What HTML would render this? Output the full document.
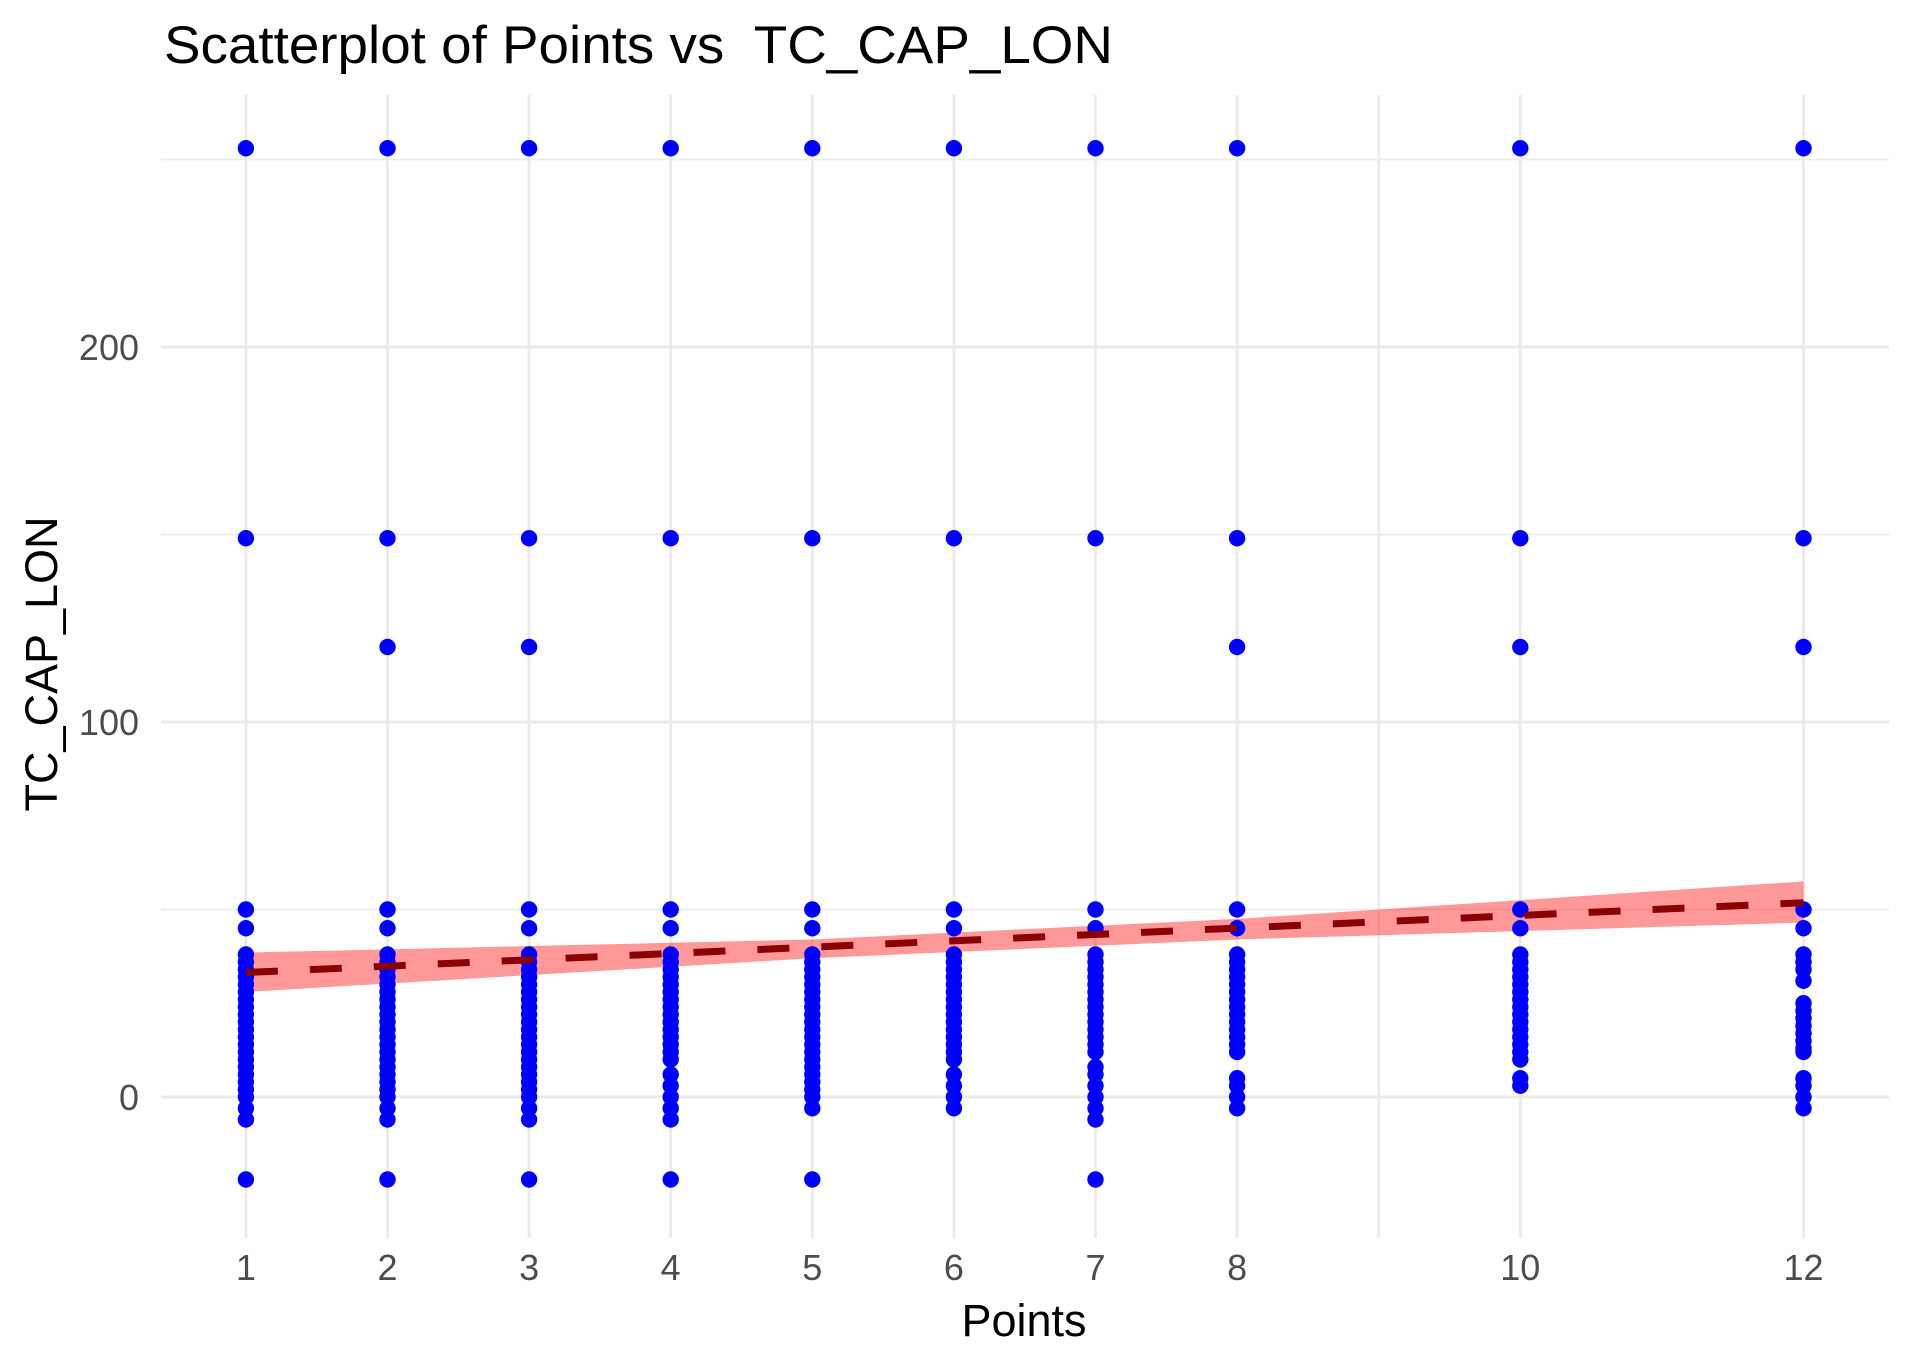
<!DOCTYPE html>
<html><head><meta charset="utf-8"><style>
html,body{margin:0;padding:0;background:#fff;}
svg{display:block;font-family:"Liberation Sans",Arial,sans-serif;}
</style></head><body>
<svg id="chart" width="1912" height="1368" viewBox="0 0 1912 1368" xmlns="http://www.w3.org/2000/svg">
<rect width="1912" height="1368" fill="#fff"/>
<g id="grid"></g>
<g id="ribbon"></g>
<g id="points"></g>
<g id="fit"></g>
<g id="axes"></g>
<text x="164" y="63" font-size="53" fill="#000" textLength="949" lengthAdjust="spacingAndGlyphs" xml:space="preserve">Scatterplot of Points vs  TC_CAP_LON</text>
<text x="1024" y="1336" font-size="45" fill="#000" text-anchor="middle">Points</text>
<text transform="translate(57,664) rotate(-90)" font-size="45" fill="#000" text-anchor="middle">TC_CAP_LON</text>
</svg>
<script>
const xTicks = [1,2,3,4,5,6,7,8,10,12];
const xMinor = [9];
const yTicks = [0,100,200];
const yMinor = [50,150,250];
const colX = [1,2,3,4,5,6,7,8,10,12];
const colY = [
 [253,149,50,45,38,36,34,32,30,28,26,24,22,20,18,16,14,12,10,8,6,4,2,0,-3,-6,-22],
 [253,149,120,50,45,38,36,34,32,30,28,26,24,22,20,18,16,14,12,10,8,6,4,2,0,-3,-6,-22],
 [253,149,120,50,45,38,36,34,32,30,28,26,24,22,20,18,16,14,12,10,8,6,4,2,0,-3,-6,-22],
 [253,149,50,45,38,36,34,32,30,28,26,24,22,20,18,16,14,12,10,6,3,0,-3,-6,-22],
 [253,149,50,45,38,36,34,32,30,28,26,24,22,20,18,16,14,12,10,8,6,4,2,0,-3,-22],
 [253,149,50,45,38,36,34,32,30,28,26,24,22,20,18,16,14,12,10,6,3,0,-3],
 [253,149,50,45,38,36,34,32,30,28,26,24,22,20,18,16,14,12,8,6,3,0,-3,-6,-22],
 [253,149,120,50,45,38,36,34,32,30,28,26,24,22,20,18,16,14,12,5,3,0,-3],
 [253,149,120,50,45,38,36,34,32,30,28,26,24,22,20,18,16,14,12,10,5,3],
 [253,149,120,50,45,38,36,34,31,25,23,21,19,17,15,13,12,5,3,0,-3]
];
const fitX = [1,12];
const fitY = [33.2,51.8];
const bandX = [1,5,8,12];
const bandLow = [28,37,42,46.5];
const bandHigh = [38.5,42,47.5,57.5];

const NS="http://www.w3.org/2000/svg";
const PL=161, PR=1889, PT=95, PB=1238;
function sx(v){return 245.9+(v-1)*141.6;}
function sy(v){return 1097-v*3.75;}
function mk(tag,attrs,parent){const e=document.createElementNS(NS,tag);for(const k in attrs)e.setAttribute(k,attrs[k]);parent.appendChild(e);return e;}
const grid=document.getElementById('grid'), axes=document.getElementById('axes');
yMinor.forEach(v=>{const l=mk('line',{x1:PL,x2:PR,y1:sy(v),y2:sy(v),stroke:'#ebebeb','stroke-width':1.8},grid);

});
xMinor.forEach(v=>{const l=mk('line',{x1:sx(v),x2:sx(v),y1:PT,y2:PB,stroke:'#ebebeb','stroke-width':2.6},grid);

});
yTicks.forEach(v=>{const l=mk('line',{x1:PL,x2:PR,y1:sy(v),y2:sy(v),stroke:'#ebebeb','stroke-width':3},grid);


const t=mk('text',{x:139,y:sy(v)+13,'font-size':36,fill:'#4d4d4d','text-anchor':'end'},axes);t.textContent=v;

});
xTicks.forEach(v=>{const l=mk('line',{x1:sx(v),x2:sx(v),y1:PT,y2:PB,stroke:'#ebebeb','stroke-width':3},grid);


const t=mk('text',{x:sx(v),y:1280,'font-size':36,fill:'#4d4d4d','text-anchor':'middle'},axes);t.textContent=v;

});
let pts=[];
for(let i=0;i<bandX.length;i++)pts.push(sx(bandX[i])+','+sy(bandHigh[i]));
for(let i=bandX.length-1;i>=0;i--)pts.push(sx(bandX[i])+','+sy(bandLow[i]));
const rb=mk('polygon',{points:pts.join(' '),fill:'#ff0000','fill-opacity':0.4},document.getElementById('ribbon'));


const pg=document.getElementById('points');
colX.forEach((x,i)=>{colY[i].forEach(y=>{const c=mk('circle',{cx:sx(x),cy:sy(y),r:8.2,fill:'#0000ff'},pg);

});});
const fl=mk('line',{x1:sx(fitX[0]),y1:sy(fitY[0]),x2:sx(fitX[1]),y2:sy(fitY[1]),stroke:'#8b0000','stroke-width':7,'stroke-dasharray':'32 32'},document.getElementById('fit'));


</script>
</body></html>
